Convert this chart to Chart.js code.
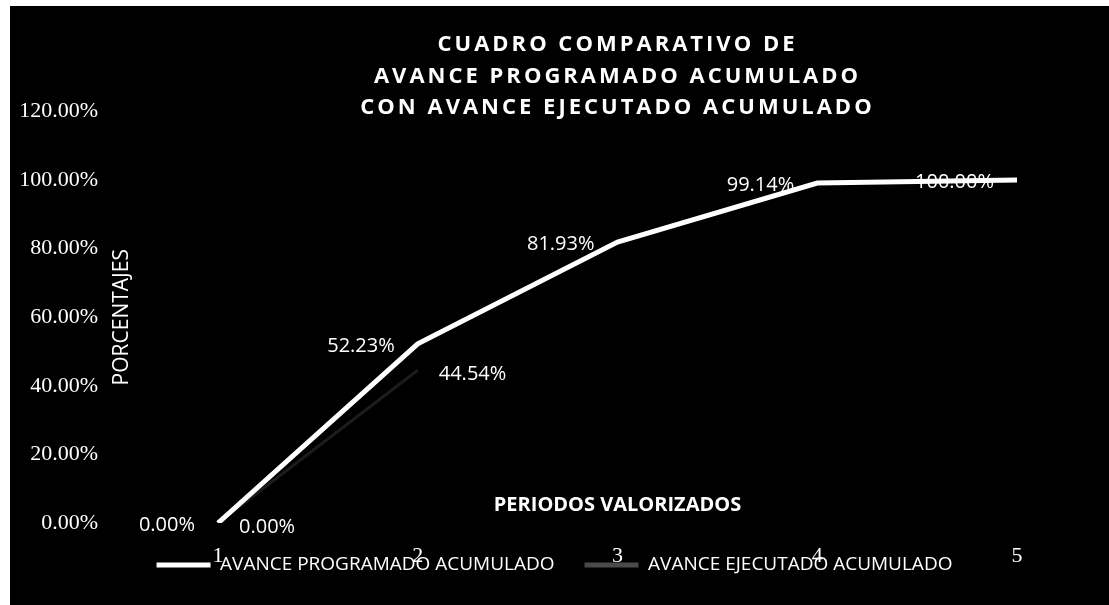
<!DOCTYPE html>
<html>
<head>
<meta charset="utf-8">
<script src="https://cdn.jsdelivr.net/npm/chart.js@4.4.0/dist/chart.umd.min.js"></script>
<style>
  html, body { margin: 0; padding: 0; background: #fff; }
  #wrap { width: 1109px; height: 605px; position: relative; }
</style>
</head>
<body>
<div id="wrap"><canvas id="grafico"></canvas></div>
<script>
const periodos = ['1', '2', '3', '4', '5'];
const programado = [0, 52.23, 81.93, 99.14, 100];
const ejecutado = [0, 44.54];
const ticksY = [0, 20, 40, 60, 80, 100, 120];

const serif = "'Liberation Serif', serif";
const sans = "'Open Sans', sans-serif";

// fondo negro con el borde blanco del escaneo
const fondo = {
    id: 'fondo',
    beforeDraw(chart) {
        const c = chart.ctx;
        c.save();
        c.fillStyle = '#000';
        c.fillRect(10, 6, chart.width - 10, chart.height - 6);
        c.restore();
        // titulo algo espaciado como en el original
        const t = chart.titleBlock;
        if (t && !t._espaciado) {
            const dibujar = t.draw;
            t.draw = function (area) {
                this.ctx.save();
                this.ctx.letterSpacing = '3px';
                dibujar.call(this, area);
                this.ctx.restore();
            };
            t._espaciado = true;
        }
    }
};

// etiquetas de datos: programado a la izquierda, ejecutado a la derecha
const etiquetas = {
    id: 'etiquetas',
    afterDatasetsDraw(chart) {
        const c = chart.ctx;
        c.save();
        c.font = '20px ' + sans;
        c.fillStyle = '#fff';
        c.textBaseline = 'middle';
        chart.data.datasets.forEach((ds, i) => {
            const meta = chart.getDatasetMeta(i);
            meta.data.forEach((pt, j) => {
                const v = ds.data[j];
                if (v === null || v === undefined) return;
                const txt = v.toFixed(2) + '%';
                if (i === 0) {
                    c.textAlign = 'right';
                    c.fillText(txt, pt.x - 23, pt.y + 2);
                } else {
                    c.textAlign = 'left';
                    c.fillText(txt, pt.x + 21, pt.y + 4);
                }
            });
        });
        c.restore();
    }
};

const ctx = document.getElementById('grafico');

new Chart(ctx, {
    type: 'line',
    data: {
        labels: periodos,
        datasets: [{
            label: 'AVANCE PROGRAMADO ACUMULADO',
            data: programado,
            borderColor: '#ffffff',
            backgroundColor: '#ffffff',
            borderWidth: 5,
            pointRadius: 0,
            tension: 0
        }, {
            label: 'AVANCE EJECUTADO ACUMULADO',
            data: ejecutado,
            borderColor: '#1c1c1c',
            backgroundColor: '#4a4a4a',
            borderWidth: 3,
            pointRadius: 0,
            tension: 0
        }]
    },
    options: {
        responsive: true,
        maintainAspectRatio: false,
        animation: false,
        layout: { padding: { left: 0, right: 0, top: 0, bottom: 20.5 } },
        scales: {
            x: {
                offset: false,
                grid: { display: false, drawTicks: false },
                border: { display: false },
                ticks: { color: '#fff', font: { family: serif, size: 22 }, mirror: true, padding: -46, maxRotation: 0 },
                title: {
                    display: true,
                    text: 'PERIODOS VALORIZADOS',
                    color: '#fff',
                    font: { family: sans, size: 20, weight: 'bold' },
                    padding: { top: 0, bottom: 8 }
                },
                afterFit(s) { s.height = 2.5; }
            },
            y: {
                min: 0,
                max: 120,
                grid: { display: false, drawTicks: false },
                border: { display: false },
                afterBuildTicks(s) { s.ticks = ticksY.map(v => ({ value: v })); },
                ticks: {
                    color: '#fff',
                    font: { family: serif, size: 22 },
                    padding: 120,
                    callback: v => v.toFixed(2) + '%'
                },
                title: {
                    display: true,
                    text: 'PORCENTAJES',
                    color: '#fff',
                    font: { family: sans, size: 21 },
                    padding: { top: 109, bottom: 0 }
                },
                afterFit(s) {
                    s.width = 218;
                    s.paddingTop = 0;
                    s.paddingBottom = 0;
                }
            },
            y2: {
                position: 'right',
                display: true,
                grid: { display: false, drawTicks: false },
                border: { display: false },
                ticks: { display: false },
                afterFit(s) {
                    s.width = 92;
                    s.paddingTop = 0;
                    s.paddingBottom = 0;
                }
            }
        },
        plugins: {
            title: {
                display: true,
                fullSize: false,
                text: ['CUADRO COMPARATIVO DE', 'AVANCE PROGRAMADO ACUMULADO', 'CON AVANCE EJECUTADO ACUMULADO'],
                color: '#fff',
                font: { family: sans, size: 22, weight: 'bold', lineHeight: '31.5px' },
                padding: { top: 29, bottom: -12 }
            },
            legend: {
                position: 'bottom',
                labels: {
                    color: '#fff',
                    font: { family: sans, size: 19 },
                    boxWidth: 54,
                    boxHeight: 5,
                    padding: 30,
                    generateLabels(chart) {
                        return Chart.defaults.plugins.legend.labels.generateLabels(chart)
                            .map(item => ({ ...item, lineWidth: 0 }));
                    }
                }
            },
            tooltip: { enabled: false }
        }
    },
    plugins: [fondo, etiquetas]
});
</script>
</body>
</html>
